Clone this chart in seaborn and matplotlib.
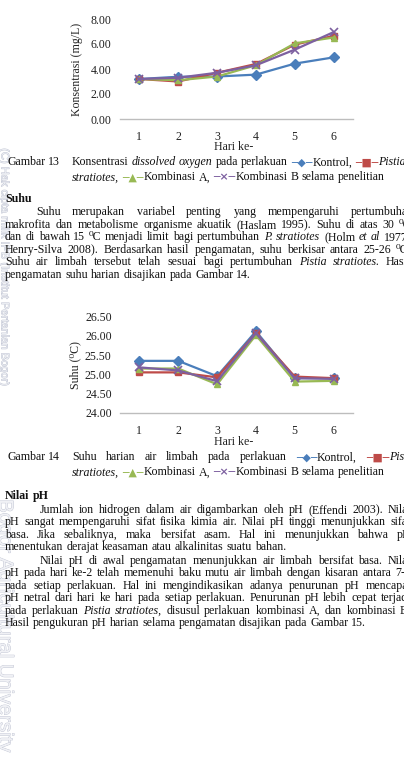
import matplotlib
matplotlib.use("Agg")
import matplotlib.pyplot as plt
import matplotlib.patheffects as pe
import seaborn as sns
import pandas as pd

# ---------------- data ----------------
hari = [1, 2, 3, 4, 5, 6]
perlakuan = ["Kontrol", "Pistia stratiotes", "Kombinasi A", "Kombinasi B"]
do_kontrol = [3.20, 3.38, 3.40, 3.55, 4.43, 4.93]
do_pistia = [3.20, 3.00, 3.70, 4.40, 5.95, 6.65]
do_kombA = [3.20, 3.10, 3.40, 4.30, 6.05, 6.52]
do_kombB = [3.20, 3.30, 3.70, 4.30, 5.55, 6.95]
suhu_kontrol = [25.35, 25.35, 24.95, 26.12, 24.90, 24.90]
suhu_pistia = [25.05, 25.05, 24.92, 26.07, 24.94, 24.90]
suhu_kombA = [25.15, 25.15, 24.74, 26.02, 24.81, 24.83]
suhu_kombB = [25.18, 25.10, 24.82, 26.07, 24.90, 24.88]
do_ticks = [0, 2, 4, 6, 8]
suhu_ticks = [24.0, 24.5, 25.0, 25.5, 26.0, 26.5]

colors = {"Kontrol": "#4a7ebb", "Pistia stratiotes": "#be4b48",
          "Kombinasi A": "#98b954", "Kombinasi B": "#7d60a0"}
markers = {"Kontrol": "D", "Pistia stratiotes": "s",
           "Kombinasi A": "^", "Kombinasi B": "X"}


def long_df(series):
    rows = []
    for name, vals in zip(perlakuan, series):
        for h, v in zip(hari, vals):
            rows.append({"Hari": h, "Nilai": v, "Perlakuan": name})
    return pd.DataFrame(rows)


df_do = long_df([do_kontrol, do_pistia, do_kombA, do_kombB])
df_suhu = long_df([suhu_kontrol, suhu_pistia, suhu_kombA, suhu_kombB])

W, H = 404, 766
fig = plt.figure(figsize=(W / 100, H / 100), dpi=100)
fig.patch.set_facecolor("white")
SERIF = ["Liberation Serif", "DejaVu Serif"]

# ---------------- watermark (behind everything) ----------------
wm = [pe.withStroke(linewidth=0.6, foreground="#bfc3d2")]
fig.text(4.5 / W, 1 - 268 / H, "(C) Hak cipta milik IPB (Institut Pertanian Bogor)",
         rotation=-90, ha="center", va="center", fontsize=8.0, color="#eceef3",
         family=["Liberation Sans", "DejaVu Sans"], path_effects=wm, zorder=0)
fig.text(5 / W, 1 - 626 / H, "Bogor Agricultural University",
         rotation=-90, ha="center", va="center", fontsize=14.5, color="#f0f1f5",
         family=["Liberation Sans", "DejaVu Sans"], path_effects=wm, zorder=0)


def add_ax(x0, y_top, x1, y_bot):
    return fig.add_axes([x0 / W, 1 - y_bot / H, (x1 - x0) / W, (y_bot - y_top) / H])


def style_chart(ax, df, ticks, ylim, ylabel, fmt):
    sns.lineplot(data=df, x="Hari", y="Nilai", hue="Perlakuan", style="Perlakuan",
                 palette=colors, markers=markers, dashes=False, linewidth=1.6,
                 markersize=4.8, markeredgewidth=1.0, ax=ax, legend=False)
    for ln in ax.lines:
        ln.set_markeredgecolor(ln.get_color())
        if ln.get_marker() == "X":
            ln.set_marker("x")
            ln.set_markersize(5.5)
            ln.set_markeredgewidth(1.2)
    ax.set_xlim(0.5, 6.5)
    ax.set_ylim(*ylim)
    ax.set_xticks(hari)
    ax.set_xticklabels([str(h) for h in hari])
    ax.set_yticks(ticks)
    ax.set_yticklabels([fmt % t for t in ticks])
    for s in ["top", "right", "left"]:
        ax.spines[s].set_visible(False)
    ax.spines["bottom"].set_color("#bdbdbd")
    ax.spines["bottom"].set_linewidth(1.0)
    ax.tick_params(axis="both", length=0, labelsize=8.6, colors="#222222")
    ax.tick_params(axis="y", pad=6)
    ax.tick_params(axis="x", pad=9)
    for lab in ax.get_xticklabels() + ax.get_yticklabels():
        lab.set_family(SERIF)
    ax.set_xlabel("Hari ke-", fontsize=8.6, family=SERIF, color="#222222")
    ax.xaxis.label.set_va("center")
    ax.set_ylabel(ylabel, fontsize=8.6, family=SERIF, color="#222222")
    ax.yaxis.label.set_va("center")
    ax.patch.set_alpha(0)


ax1 = add_ax(120, 19, 353, 119)
style_chart(ax1, df_do, do_ticks, (0, 8), "Konsentrasi (mg/L)", "%.2f")
ax1.xaxis.set_label_coords(0.49, -0.28)
ax1.yaxis.set_label_coords(-0.185, 0.5)

ax2 = add_ax(120, 316.7, 353, 412.7)
style_chart(ax2, df_suhu, suhu_ticks, (24, 26.5), "Suhu (\u2070C)", "%.2f")
ax2.xaxis.set_label_coords(0.49, -0.31)
ax2.yaxis.set_label_coords(-0.19, 0.5)

# ---------------- page text ----------------
renderer = fig.canvas.get_renderer()
FS = 8.6
glyphs = {
    "@K": ("\u2500\u25c6\u2500", colors["Kontrol"]),
    "@P": ("\u2500\u25a0\u2500", colors["Pistia stratiotes"]),
    "@A": ("\u2500\u25b2\u2500", colors["Kombinasi A"]),
    "@B": ("\u2500\u00d7\u2500", colors["Kombinasi B"]),
}


def seg_props(seg):
    if seg in glyphs:
        t, c = glyphs[seg]
        return t, dict(color=c, family=["DejaVu Sans"], fontsize=7.8, weight="bold")
    if seg.startswith("_"):
        return seg[1:], dict(color="#111111", family=SERIF, fontsize=FS, style="italic")
    if seg.startswith("!"):
        return seg[1:], dict(color="#111111", family=SERIF, fontsize=FS, weight="bold")
    return seg, dict(color="#111111", family=SERIF, fontsize=FS)


def text_line(y, x0, content, x1=None):
    words = content.split(" ")
    base = y + 3.4
    items = []
    for w in words:
        segs = []
        for s in w.split("|"):
            t, p = seg_props(s)
            txt = fig.text(0, 0, t, va="baseline", ha="left", zorder=2, **p)
            bb = txt.get_window_extent(renderer)
            segs.append((txt, bb.width))
        items.append(segs)
    widths = [sum(wd for _, wd in segs) for segs in items]
    sp = fig.text(0, 0, "a a", family=SERIF, fontsize=FS)
    spw = sp.get_window_extent(renderer).width
    sp2 = fig.text(0, 0, "aa", family=SERIF, fontsize=FS)
    spw -= sp2.get_window_extent(renderer).width
    sp.remove(); sp2.remove()
    if x1 is not None and len(items) > 1:
        gap = max((x1 - x0 - sum(widths)) / (len(items) - 1), spw * 0.8)
    else:
        gap = spw
    x = x0
    for segs, wd in zip(items, widths):
        xx = x
        for txt, sw in segs:
            txt.set_position((xx / W, 1 - base / H))
            xx += sw
        x += wd + gap


R = 411
text_line(162, 7, "Gambar 13")
text_line(162, 72, "Konsentrasi _dissolved _oxygen pada perlakuan @K|Kontrol, @P|_Pistia")
text_line(177, 72, "_stratiotes, @A|Kombinasi A, @B|Kombinasi B selama penelitian")
text_line(199, 5, "!Suhu")
text_line(212, 36, "Suhu merupakan variabel penting yang mempengaruhi pertumbuhan", R + 3)
text_line(224.5, 5, "makrofita dan metabolisme organisme akuatik (Haslam 1995). Suhu di atas 30 \u2070C", R)
text_line(237, 5, "dan di bawah 15 \u2070C menjadi limit bagi pertumbuhan _P. _stratiotes (Holm _et _al 1977;", R)
text_line(249.5, 5, "Henry-Silva 2008). Berdasarkan hasil pengamatan, suhu berkisar antara 25-26 \u2070C.", R)
text_line(262, 5, "Suhu air limbah tersebut telah sesuai bagi pertumbuhan _Pistia _stratiotes. Hasil", R)
text_line(274.5, 5, "pengamatan suhu harian disajikan pada Gambar 14.")

text_line(457, 7, "Gambar 14")
text_line(457, 72, "Suhu harian air limbah pada perlakuan @K|Kontrol, @P|_Pistia", R + 6)
text_line(472, 72, "_stratiotes, @A|Kombinasi A, @B|Kombinasi B selama penelitian")
text_line(496, 5, "!Nilai !pH")
text_line(509.5, 40, "Jumlah ion hidrogen dalam air digambarkan oleh pH (Effendi 2003). Nilai", R)
text_line(522, 5, "pH sangat mempengaruhi sifat fisika kimia air. Nilai pH tinggi menunjukkan sifat", R)
text_line(534.5, 5, "basa. Jika sebaliknya, maka bersifat asam. Hal ini menunjukkan bahwa pH", R)
text_line(547, 5, "menentukan derajat keasaman atau alkalinitas suatu bahan.")
text_line(560.5, 40, "Nilai pH di awal pengamatan menunjukkan air limbah bersifat basa. Nilai", R)
text_line(573, 5, "pH pada hari ke-2 telah memenuhi baku mutu air limbah dengan kisaran antara 7-8", R)
text_line(585.5, 5, "pada setiap perlakuan. Hal ini mengindikasikan adanya penurunan pH mencapai", R)
text_line(598, 5, "pH netral dari hari ke hari pada setiap perlakuan. Penurunan pH lebih cepat terjadi", R)
text_line(610.5, 5, "pada perlakuan _Pistia _stratiotes, disusul perlakuan kombinasi A, dan kombinasi B.", R)
text_line(623, 5, "Hasil pengukuran pH harian selama pengamatan disajikan pada Gambar 15.")

fig.savefig("out.png", dpi=100, facecolor="white")
